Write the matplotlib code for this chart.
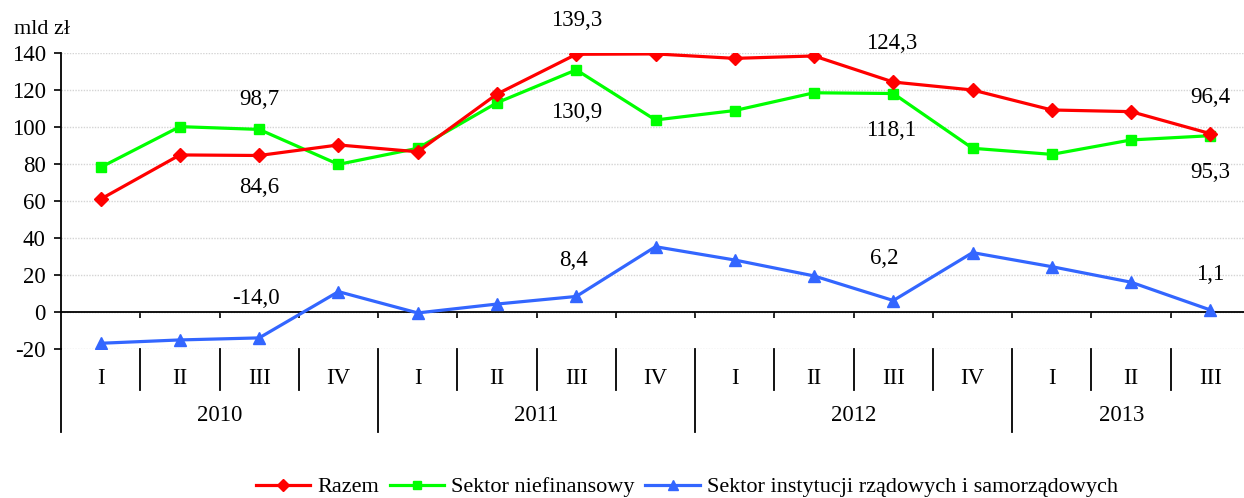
import matplotlib
matplotlib.use("Agg")
import matplotlib.pyplot as plt
import matplotlib.transforms as mtransforms
import numpy as np

# ---- data ----
quarters = ["I", "II", "III", "IV", "I", "II", "III", "IV", "I", "II", "III", "IV", "I", "II", "III"]
years = ["2010", "2011", "2012", "2013"]
year_quarter_counts = [4, 4, 4, 3]
razem = [61.0, 84.9, 84.6, 90.3, 86.6, 117.8, 139.3, 139.5, 137.1, 138.4, 124.3, 120.0, 109.2, 108.3, 96.4]
niefin = [78.2, 100.2, 98.7, 79.8, 88.5, 113.1, 130.9, 103.8, 108.9, 118.5, 118.1, 88.5, 85.2, 93.0, 95.3]
rzad = [-16.9, -15.1, -14.0, 11.0, -0.5, 4.3, 8.4, 35.3, 28.1, 19.5, 6.2, 32.1, 24.5, 16.1, 1.1]
series_names = ["Razem", "Sektor niefinansowy", "Sektor instytucji rządowych i samorządowych"]
labeled_idx = [2, 6, 10, 14]
yticks = [-20, 0, 20, 40, 60, 80, 100, 120, 140]

plt.rcParams['font.family'] = ['Liberation Serif', 'DejaVu Serif']

fig = plt.figure(figsize=(12.44, 4.98), dpi=100)
ax = fig.add_axes([61/1244, 149/498, 1189/1244, 296/498])

x = np.arange(len(quarters))
RED, GREEN, BLUE = "#FF0000", "#00FF00", "#3366FF"
lw = 2.3
ax.plot(x, razem, color=RED, lw=lw, marker="D", ms=7.5, label=series_names[0], zorder=4)
ax.plot(x, niefin, color=GREEN, lw=lw, marker="s", ms=7.5, label=series_names[1], zorder=3)
ax.plot(x, rzad, color=BLUE, lw=lw, marker="^", ms=9, label=series_names[2], zorder=3)

ax.set_xlim(-0.5, len(quarters) - 0.5)
ax.set_ylim(-20, 140)
ax.set_yticks(yticks)
ax.set_yticklabels([str(v) for v in yticks], fontsize=16.5)
ax.tick_params(axis='y', direction='out', length=5, width=1.2, pad=6)
ax.grid(axis='y', color="#d4d4d4", linestyle=(0, (1, 1)), linewidth=1)
ax.set_axisbelow(True)

for s in ["top", "right"]:
    ax.spines[s].set_visible(False)
ax.spines["left"].set_linewidth(1.3)
ax.spines["bottom"].set_position(("data", 0))
ax.spines["bottom"].set_linewidth(1.3)
bounds = np.arange(-0.5, len(quarters) + 0.5, 1.0)
ax.set_xticks(bounds[1:])
ax.set_xticklabels([])
ax.tick_params(axis='x', direction='out', length=4, width=1.2)

# value labels
def fmt(v):
    return f"{v:.1f}".replace(".", ",")

lab_specs = [
    (razem, [(0, -32), (0, 34), (-2, 39), (0, 36)]),
    (niefin, [(0, 30), (0, -43), (-2, -37), (0, -37)]),
    (rzad, [(-3, 39), (-3, 36), (-9, 42), (0, 35)]),
]
for vals, offs in lab_specs:
    for i, (dx, dy) in zip(labeled_idx, offs):
        ax.annotate(fmt(vals[i]), (x[i], vals[i]), xytext=(dx, dy), textcoords="offset pixels",
                    ha="center", va="center", fontsize=16.5, annotation_clip=False)

# category axis below
trans = mtransforms.blended_transform_factory(ax.transData, ax.transAxes)
year_starts = np.cumsum([0] + year_quarter_counts[:-1])
year_bounds = set(float(s) - 0.5 for s in year_starts)
for b in bounds:
    if b in year_bounds:
        ax.plot([b, b], [0, -0.28], color="black", lw=1.3, transform=trans, clip_on=False)
    elif b < len(quarters) - 0.5:
        ax.plot([b, b], [0, -0.1385], color="black", lw=1.3, transform=trans, clip_on=False)
for xi, q in zip(x, quarters):
    ax.text(xi, -0.098, q, transform=trans, ha="center", va="center", fontsize=16.5)
visible_right = 14.25
for s, n, yr in zip(year_starts, year_quarter_counts, years):
    left = s - 0.5
    right = min(s + n - 0.5, visible_right)
    ax.text((left + right) / 2, -0.226, yr, transform=trans, ha="center", va="center", fontsize=16.5)

fig.text(14/1244, 1 - 29/498, "mld zł", fontsize=16, ha="left", va="center")

leg = fig.legend(loc="center", bbox_to_anchor=(0.552, 0.022), ncol=3, frameon=False,
                 fontsize=16, handlelength=2.45, handletextpad=0.3, columnspacing=0.5,
                 markerscale=0.85)

fig.savefig("out.png", dpi=100)
